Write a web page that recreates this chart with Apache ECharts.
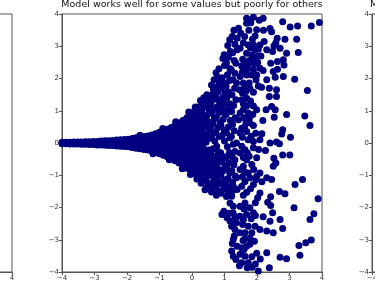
<!DOCTYPE html>
<html><head><meta charset="utf-8">
<script src="https://cdn.jsdelivr.net/npm/echarts@6/dist/echarts.min.js"></script>
<style>html,body{margin:0;padding:0;background:#fff;overflow:hidden}#c{width:960px;height:295px;margin-left:-300px}</style>
</head><body><div id="c"></div>
<script>
const titleText = 'Model works well for some values but poorly for others';
const rightTitleText = 'Model works poorly for some values but well for others';
const axisTicks = [-4, -3, -2, -1, 0, 1, 2, 3, 4];

// dense core: each row = [x, y1, y2, ...]
const denseColumns = [
  [-4.00, -0.02, 0.02], [-3.88, -0.02, 0.02], [-3.76, -0.03, 0.02], [-3.64, -0.03, 0.03],
  [-3.52, -0.03, 0.03], [-3.40, -0.04, 0.03], [-3.28, -0.04, 0.04], [-3.16, -0.05, 0.04],
  [-3.04, -0.05, 0.05], [-2.92, -0.06, 0.05], [-2.80, -0.06, 0.06], [-2.68, -0.07, 0.07],
  [-2.56, -0.08, 0.07], [-2.44, -0.08, 0.08], [-2.32, -0.09, 0.09], [-2.20, -0.10, 0.10],
  [-2.08, -0.11, 0, 0.11], [-1.96, -0.12, 0, 0.12], [-1.84, -0.14, 0, 0.14], [-1.72, -0.16, 0, 0.16],
  [-1.60, -0.18, -0.06, 0.06, 0.18], [-1.48, -0.20, -0.07, 0.07, 0.20], [-1.36, -0.22, -0.08, 0.08, 0.22],
  [-1.24, -0.25, -0.10, 0.03, 0.14, 0.25], [-1.12, -0.29, -0.15, 0, 0.15, 0.29],
  [-1.00, -0.33, -0.19, -0.06, 0.07, 0.20, 0.33], [-0.88, -0.38, -0.24, -0.10, 0.04, 0.18, 0.32, 0.38],
  [-0.76, -0.43, -0.29, -0.15, 0, 0.15, 0.29, 0.43], [-0.64, -0.48, -0.34, -0.20, -0.06, 0.08, 0.22, 0.36, 0.48],
  [-0.52, -0.55, -0.41, -0.27, -0.13, 0, 0.13, 0.27, 0.41, 0.55],
  [-0.40, -0.62, -0.48, -0.34, -0.20, -0.06, 0.08, 0.22, 0.36, 0.50, 0.62],
  [-0.28, -0.70, -0.56, -0.42, -0.28, -0.14, 0, 0.14, 0.28, 0.42, 0.56, 0.70],
  [-0.16, -0.78, -0.64, -0.50, -0.36, -0.22, -0.08, 0.06, 0.20, 0.34, 0.48, 0.62, 0.78],
  [-0.04, -0.86, -0.72, -0.58, -0.44, -0.30, -0.16, -0.02, 0.12, 0.26, 0.40, 0.54, 0.68, 0.82, 0.90],
  [0.08, -0.95, -0.81, -0.67, -0.53, -0.39, -0.25, -0.11, 0.03, 0.17, 0.31, 0.45, 0.59, 0.73, 0.87, 1.00],
  [0.20, -1.05, -0.91, -0.77, -0.63, -0.49, -0.35, -0.21, -0.07, 0.07, 0.21, 0.35, 0.49, 0.63, 0.77, 0.91, 1.05, 1.12]
];

// individual points: [x, y]
const scatterPoints = [
  [-1.6, 0.24], [-1.2, -0.33], [-0.9, 0.45], [-0.7, -0.52], [-0.5, 0.66], [-0.3, -0.80],
  [-0.1, 0.96], [-0.05, -0.98], [0.10, 1.12], [0.15, -1.12], [0.26, 1.32], [0.28, -1.25], [0.36, 1.40], [0.40, -1.45],
  [0.30,-1.18],[0.36,-1.05],[0.31,-0.92],[0.38,-0.80],[0.33,-0.66],[0.29,-0.52],[0.37,-0.42],[0.32,-0.30],[0.35,-0.16],[0.30,-0.02],
  [0.38,0.08],[0.33,0.22],[0.29,0.36],[0.36,0.48],[0.31,0.62],[0.38,0.74],[0.33,0.88],[0.30,1.02],[0.37,1.14],[0.32,1.26],
  [0.45,-1.38],[0.50,-1.25],[0.43,-1.12],[0.52,-0.98],[0.46,-0.86],[0.54,-0.72],[0.44,-0.60],[0.50,-0.48],[0.47,-0.34],[0.53,-0.22],
  [0.43,0.02],[0.51,0.14],[0.46,0.28],[0.54,0.40],[0.44,0.52],[0.50,0.66],[0.45,0.84],[0.53,0.96],[0.47,1.10],[0.43,1.24],[0.51,1.36],[0.46,1.50],
  [0.60,-1.52],[0.66,-1.40],[0.58,-1.28],[0.68,-1.16],[0.62,-1.02],[0.57,-0.88],[0.66,-0.76],[0.61,-0.62],[0.69,-0.48],[0.59,-0.36],
  [0.65,-0.18],[0.70,0.06],[0.60,0.16],[0.67,0.30],[0.58,0.46],[0.64,0.60],[0.69,0.76],[0.60,0.92],[0.66,1.06],[0.58,1.22],
  [0.68,1.36],[0.62,1.50],[0.66,1.66],[0.60,1.80],[0.68,1.96],
  [0.75,-1.62],[0.82,-1.48],[0.73,-1.34],[0.85,-1.22],[0.78,-1.08],[0.72,-0.94],[0.84,-0.82],[0.77,-0.66],[0.86,-0.52],[0.74,-0.40],
  [0.81,-0.28],[0.76,-0.10],[0.84,0.20],[0.73,0.34],[0.80,0.48],[0.86,0.62],[0.75,0.78],[0.82,0.94],[0.77,1.12],[0.85,1.26],
  [0.73,1.42],[0.80,1.58],[0.76,1.74],[0.84,1.88],[0.79,2.04],[0.74,2.18],[0.83,2.30],
  [0.92,-2.22],[0.98,-2.12],[0.90,-1.56],[0.99,-1.42],[0.93,-1.28],[1.01,-1.14],[0.89,-1.00],[0.96,-0.86],[1.02,-0.70],[0.91,-0.58],
  [0.97,-0.42],[0.88,-0.30],[1.00,0.06],[0.93,0.24],[0.99,0.40],[0.89,0.56],[0.96,0.74],[1.02,0.90],[0.91,1.06],[0.98,1.22],
  [0.94,1.40],[1.01,1.56],[0.90,1.72],[0.97,1.86],[0.93,2.02],[1.00,2.40],[0.95,2.62],[0.99,2.74],
  [1.08,-2.32],[1.14,-2.18],[1.06,-1.66],[1.12,-1.52],[1.17,-1.38],[1.05,-1.24],[1.11,-1.10],[1.16,-0.92],[1.07,-0.78],[1.13,-0.62],
  [1.04,-0.46],[1.15,-0.30],[1.09,-0.12],[1.17,0.16],[1.06,0.32],[1.12,0.50],[1.18,0.70],[1.05,0.88],[1.10,1.04],[1.16,1.22],
  [1.07,1.40],[1.13,1.58],[1.05,1.76],[1.15,1.94],[1.09,2.12],[1.17,2.30],[1.06,2.48],[1.12,2.66],[1.18,2.84],[1.10,3.02],[1.16,3.20],
  [1.24,-3.12],[1.30,-2.88],[1.22,-2.58],[1.32,-2.40],[1.26,-2.16],[1.21,-1.58],[1.31,-1.44],[1.25,-1.22],[1.33,-1.02],[1.22,-0.86],
  [1.29,-0.68],[1.24,-0.44],[1.32,-0.26],[1.27,-0.04],[1.21,0.20],[1.30,0.38],[1.25,0.58],[1.33,0.78],[1.22,0.98],[1.28,1.16],
  [1.23,1.50],[1.31,1.70],[1.26,1.96],[1.21,2.26],[1.30,2.56],[1.25,2.80],[1.32,3.06],[1.24,3.30],[1.29,3.50],
  [1.99, 3.51], [2.07, 3.81], [1.81, 3.73], [1.68, 3.71], [2.19, 3.87], [1.94, 3.32], [1.86, 3.22], [1.89, 3.05],
  [2.09, 3.04], [2.04, 2.91], [1.94, 2.89], [1.73, 3.04], [1.58, 3.11], [1.50, 3.40], [1.43, 3.56], [1.39, 3.25],
  [1.48, 2.94], [1.68, 2.78], [1.84, 2.73], [2.01, 2.68], [1.89, 2.58], [1.76, 2.56], [1.56, 2.60], [1.39, 2.89],
  [1.35, 2.47], [1.53, 2.39], [1.68, 2.27], [1.89, 2.27], [2.09, 2.32], [2.19, 2.25], [1.99, 2.11], [1.84, 2.11],
  [1.68, 2.11], [1.48, 2.06], [1.32, 2.16], [1.37, 1.86], [1.58, 1.86], [1.76, 1.86], [1.97, 1.96], [2.04, 1.77],
  [2.14, 1.73], [1.46, 1.65], [1.66, 1.60], [1.89, 1.57], [1.53, 1.34], [1.68, 1.39], [1.35, 1.34], [1.68, 1.15],
  [1.89, 1.15], [1.58, 1.03], [1.73, 0.93], [1.48, 0.93], [1.87, 0.88], [1.99, 1.03], [1.43, 0.72], [1.66, 0.62],
  [1.78, 0.62], [1.53, 0.46], [1.89, 0.54], [1.68, 0.36], [1.48, 0.31], [1.82, 0.21], [1.73, 0.10], [1.89, 0.05],
  [2.09, 0.10], [1.37, 0.00], [1.53, -0.10], [1.63, -0.21], [1.89, -0.15], [1.48, -0.31], [1.76, -0.41], [1.99, -0.46],
  [1.68, -0.52], [1.32, -0.52], [1.58, -0.72], [1.84, -0.67], [1.48, -0.82], [1.73, -0.93], [1.99, -1.03], [1.37, -1.08],
  [1.63, -1.19], [1.89, -1.29], [1.53, -1.34], [1.39, -1.44], [1.68, -1.53], [1.27, -1.34], [1.22, -1.65],
  [1.17, -1.86], [1.27, -1.96], [1.48, -1.96], [1.63, -1.86], [1.78, -2.01], [1.89, -2.16], [1.68, -2.22], [1.48, -2.27],
  [1.32, -2.27], [1.17, -2.42], [1.37, -2.47], [1.56, -2.53], [1.73, -2.58], [1.94, -2.58], [2.09, -2.68], [1.84, -2.78],
  [1.63, -2.78], [1.48, -2.78], [1.32, -2.68], [1.27, -2.99], [1.39, -3.20], [1.53, -3.25], [1.68, -3.20], [1.78, -3.14],
  [1.48, -3.45], [1.63, -3.51], [1.84, -3.53], [1.73, -3.71], [1.53, -3.71], [1.70, -3.87], [1.46, -3.81], [1.22, -3.35],
  [1.27, -3.51], [1.35, -3.61], [1.68, 3.87], [1.89, 3.90],
  [1.55,2.20],[1.62,2.45],[1.72,2.40],[1.80,2.95],[1.62,3.30],[1.75,3.50],[1.92,2.45],[2.02,2.50],[1.55,1.55],[1.62,1.72],
  [1.78,1.70],[1.58,1.22],[1.80,1.30],[1.60,0.78],[1.77,0.78],[1.55,0.18],[1.62,0.50],[1.96,0.30],[1.58,-0.45],[1.70,-0.30],
  [1.90,-0.82],[1.62,-0.90],[1.78,-1.08],[1.55,-1.05],[1.80,-1.42],[1.58,-1.62],[1.95,-1.85],[1.60,-2.05],[1.82,-2.35],[1.58,-2.38],
  [1.95,-2.25],[1.62,-2.98],[1.78,-2.95],[1.92,-3.05],[1.57,-3.02],[1.95,-3.75],[1.85,-3.85],[1.60,-3.30],[2.10,-3.60],[2.15,-1.20],
  [2.12,2.70],[2.22,3.15],[2.18,0.70],[2.05,-0.20],
  [2.52, 3.01], [2.58, 3.11], [2.48, 2.84], [2.71, 2.94], [2.91, 2.78], [2.42, 2.47], [2.63, 2.53], [2.81, 2.58],
  [2.83, 2.42], [2.63, 2.29], [2.50, 2.22], [2.81, 2.06], [2.56, 2.04], [2.30, 1.96], [2.38, 1.70], [2.60, 1.65],
  [2.38, 1.44], [2.60, 1.44], [2.28, 1.03], [2.56, 1.03], [2.53, 0.80], [2.79, 0.41], [2.76, 0.28], [2.15, 0.29],
  [2.60, 0.03], [2.69, -0.02], [2.40, 0.00], [2.26, -0.23], [2.52, -0.47], [2.58, -0.62], [2.50, -0.72], [2.30, -1.08],
  [2.09, -0.93], [1.97, -1.13], [2.09, -1.55], [2.02, -1.70], [2.42, -1.67], [2.33, -1.84], [2.42, -1.94], [2.48, -2.16],
  [2.19, -2.29], [2.40, -2.43], [2.20, 3.50], [2.40, 3.55], [2.45, 3.45], [2.62, 3.25], [2.30, 2.89], [2.45, 1.13],
  [2.45, -1.13],
  [2.79, 3.76], [3.02, 3.60], [3.25, 3.63], [3.67, 3.63], [3.92, 3.74], [2.86, 3.22], [3.22, 3.22], [3.27, 2.81],
  [3.16, 1.98], [3.55, 1.63], [3.47, 0.84], [3.63, 0.54], [2.91, 0.88], [3.03, 0.18], [3.01, -0.37], [2.79, -0.37],
  [3.17, -1.29], [3.40, -1.13], [3.88, -1.73], [3.14, -2.01], [3.75, -2.19], [3.63, -2.37], [2.69, -1.50], [2.86, -1.57],
  [2.79, -2.65], [2.71, -2.37], [2.50, -2.78], [2.30, -2.73], [3.29, -3.18], [3.50, -3.09], [3.67, -3.01], [3.32, -3.48],
  [2.71, -3.54], [2.91, -3.59], [2.38, -3.87], [2.04, -3.97], [1.99, -3.42], [2.30, -3.40]
];

const points = [];
denseColumns.forEach(function (col) {
  for (let i = 1; i < col.length; i++) points.push([col[0], col[i]]);
});
scatterPoints.forEach(function (p) { points.push(p); });

const OFF = 300; // container is shifted left by this many px
const chart = echarts.init(document.getElementById('c'), null, {renderer: 'canvas'});
const fmt = function (v) { return String(v).replace('-', '\u2212'); };
const grids = [
  {left: OFF - 248, top: 14, width: 260, height: 258},
  {left: OFF + 62, top: 14, width: 260, height: 258},
  {left: OFF + 372, top: 14, width: 260, height: 258}
];
function mkAxis(idx) {
  return {
    type: 'value', gridIndex: idx, min: axisTicks[0], max: axisTicks[axisTicks.length - 1], interval: 1,
    axisLine: {show: true, onZero: false, lineStyle: {color: '#555', width: 1}},
    axisTick: {show: true, length: 3, lineStyle: {color: '#555'}},
    splitLine: {show: false},
    axisLabel: {fontSize: 7, color: '#333', margin: 3, fontFamily: 'DejaVu Sans', formatter: fmt}
  };
}
chart.setOption({
  animation: false,
  backgroundColor: '#fff',
  title: [
    {text: titleText, left: OFF + 192, top: 0, textAlign: 'center', padding: 0,
     textStyle: {fontSize: 9.5, fontWeight: 'normal', color: '#111', fontFamily: 'DejaVu Sans'}},
    {text: rightTitleText, left: OFF + 370, top: 0, textAlign: 'left', padding: 0,
     textStyle: {fontSize: 9.5, fontWeight: 'normal', color: '#111', fontFamily: 'DejaVu Sans'}}
  ],
  grid: grids.map(function (g) { return Object.assign({show: true, borderColor: '#555', borderWidth: 1, backgroundColor: 'transparent'}, g); }),
  xAxis: [mkAxis(0), mkAxis(1), mkAxis(2)],
  yAxis: [mkAxis(0), mkAxis(1), mkAxis(2)],
  series: [{
    type: 'scatter', xAxisIndex: 1, yAxisIndex: 1, data: points, symbolSize: 7, clip: true,
    itemStyle: {color: '#000080', opacity: 1}
  }]
});
</script></body></html>
